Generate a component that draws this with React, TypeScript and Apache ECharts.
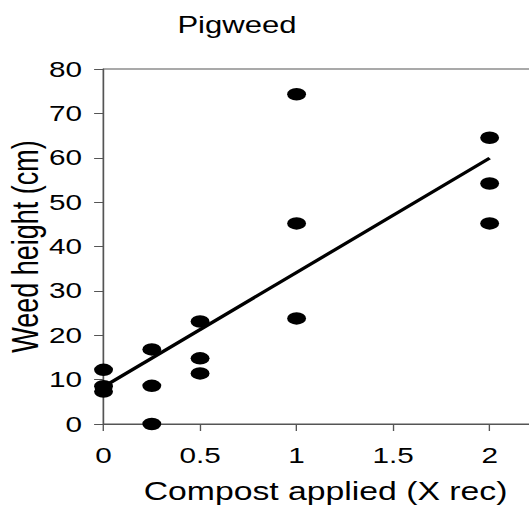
import React, { useEffect, useRef } from "react";
import * as echarts from "echarts";

// ---- data ----
const compostLevels = [0, 0, 0, 0.25, 0.25, 0.25, 0.5, 0.5, 0.5, 1, 1, 1, 2, 2, 2];
const weedHeights = [12.2, 8.5, 7.3, 16.8, 8.6, 0, 23.1, 14.8, 11.4, 74.3, 45.2, 23.8, 64.5, 54.2, 45.2];
const fitX = [0, 2];
const fitY = [8.4, 59.9];
const xTickValues = [0, 0.5, 1, 1.5, 2];
const chartTitle = "Pigweed";
const xAxisName = "Compost applied (X rec)";
const yAxisName = "Weed height (cm)";

// the reference is horizontally stretched; reproduce with a CSS scale
const SX = 1.35;
const INNER_W = 410;
const H = 509;
const FONT = "'Liberation Sans', Arial, Helvetica, sans-serif";
const AXIS_COLOR = "#555";
const TEXT_COLOR = "#000";
const ELLIPSE = "path://M50,0A50,50,0,1,1,50,100A50,50,0,1,1,50,0Z";

export default function App() {
  const ref = useRef<HTMLDivElement>(null);

  useEffect(() => {
    if (!ref.current) return;
    const chart = echarts.init(ref.current, undefined, { renderer: "svg" });
    const points = compostLevels.map((x, i) => [x, weedHeights[i]]);
    const fit = fitX.map((x, i) => [x, fitY[i]]);
    chart.setOption({
      animation: false,
      backgroundColor: "#fff",
      textStyle: { fontFamily: FONT },
      grid: {
        left: 76.7,
        right: 4.4,
        top: 69,
        bottom: 85,
        containLabel: false,
        outerBoundsMode: "none",
        show: true,
        borderColor: AXIS_COLOR,
        borderWidth: 1,
        backgroundColor: "transparent",
      },
      graphic: [
        {
          type: "text",
          x: 175.5,
          y: 25,
          style: {
            text: chartTitle,
            fontSize: 23,
            fontFamily: FONT,
            fill: TEXT_COLOR,
            align: "center",
            verticalAlign: "middle",
          },
        },
      ],
      xAxis: {
        type: "value",
        min: 0,
        max: 2.3,
        interval: 0.5,
        name: xAxisName,
        nameLocation: "middle",
        nameGap: 55,
        nameMoveOverlap: false,
        nameTextStyle: { fontSize: 25, color: TEXT_COLOR, fontFamily: FONT },
        axisLine: { show: true, lineStyle: { color: AXIS_COLOR, width: 1 } },
        axisTick: {
          show: true,
          length: 7,
          customValues: xTickValues,
          lineStyle: { color: AXIS_COLOR, width: 1 },
        },
        axisLabel: {
          customValues: xTickValues,
          fontSize: 22,
          color: TEXT_COLOR,
          margin: 20,
          fontFamily: FONT,
        },
        splitLine: { show: false },
      },
      yAxis: {
        type: "value",
        min: 0,
        max: 80,
        interval: 10,
        name: yAxisName,
        nameLocation: "middle",
        nameGap: 44,
        nameRotate: 90,
        nameMoveOverlap: false,
        nameTextStyle: { fontSize: 27, color: TEXT_COLOR, fontFamily: FONT },
        axisLine: { show: true, lineStyle: { color: AXIS_COLOR, width: 1 } },
        axisTick: { show: true, length: 7, lineStyle: { color: AXIS_COLOR, width: 1 } },
        axisLabel: { fontSize: 22, color: TEXT_COLOR, margin: 16, fontFamily: FONT },
        splitLine: { show: false },
      },
      series: [
        {
          type: "line",
          data: fit,
          showSymbol: false,
          symbol: "none",
          lineStyle: { color: "#000", width: 3 },
          silent: true,
          z: 2,
        },
        {
          type: "scatter",
          data: points,
          symbol: ELLIPSE,
          symbolSize: [14, 12.5],
          itemStyle: { color: "#000", opacity: 1 },
          z: 3,
        },
      ],
    });
    return () => chart.dispose();
  }, []);

  return (
    <div
      style={{
        position: "fixed",
        left: 0,
        top: 0,
        width: 529,
        height: H,
        overflow: "hidden",
        background: "#fff",
      }}
    >
      <div
        ref={ref}
        style={{
          width: INNER_W,
          height: H,
          transform: `scaleX(${SX})`,
          transformOrigin: "0 0",
        }}
      />
    </div>
  );
}
